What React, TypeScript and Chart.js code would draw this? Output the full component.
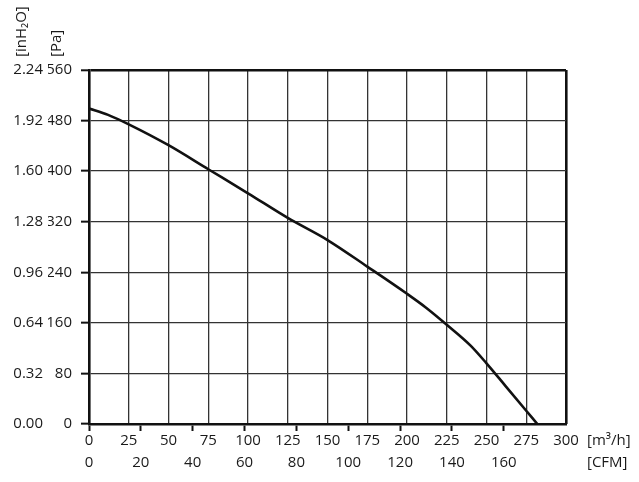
import React, { useEffect, useRef } from 'react';
import { Chart, registerables } from 'chart.js';

Chart.register(...registerables);

// Flow (m³/h) and static pressure (Pa)
const FLOW_M3H = [0, 12, 25, 50, 75, 100, 125, 150, 175, 200, 212, 225, 240, 250, 262, 275, 282];
const PRESSURE_PA = [499, 489, 474, 441, 403, 365, 326, 291, 249, 206, 184, 157, 124, 96, 60, 21, 0];

const M3H_TICKS = [0, 25, 50, 75, 100, 125, 150, 175, 200, 225, 250, 275, 300];
const CFM_TICKS = [0, 20, 40, 60, 80, 100, 120, 140, 160];
const CFM_MAX = 184;
const PA_TICKS = [0, 80, 160, 240, 320, 400, 480, 560];
const INH2O_TICKS = ['0.00', '0.32', '0.64', '0.96', '1.28', '1.60', '1.92', '2.24'];

const FONT_FAMILY = "'Open Sans', 'Noto Sans', sans-serif";
const FONT_SIZE = 15;
const TEXT_COLOR = '#1a1a1a';
const GRID_COLOR = '#333333';
const FRAME_COLOR = '#111111';

const unitsPlugin = {
  id: 'units',
  afterDraw(chart: any) {
    const { ctx, chartArea } = chart;
    ctx.save();
    ctx.fillStyle = TEXT_COLOR;
    ctx.font = `${FONT_SIZE}px ${FONT_FAMILY}`;
    ctx.textBaseline = 'middle';
    ctx.textAlign = 'left';
    const xs = chart.scales.x;
    const xc = chart.scales.xc;
    ctx.fillText('[m³/h]', chartArea.right + 21, xs.top + 1 + FONT_SIZE * 0.6);
    ctx.fillText('[CFM]', chartArea.right + 21, xc.top + 4 + FONT_SIZE * 0.6);
    ctx.save();
    ctx.translate(22, chartArea.top - 13);
    ctx.rotate(-Math.PI / 2);
    ctx.fillText('[inH₂O]', 0, 0);
    ctx.restore();
    ctx.save();
    ctx.translate(57, chartArea.top - 13);
    ctx.rotate(-Math.PI / 2);
    ctx.fillText('[Pa]', 0, 0);
    ctx.restore();
    ctx.restore();
  },
};

export default function App() {
  const ref = useRef<HTMLCanvasElement | null>(null);

  useEffect(() => {
    document.body.style.margin = '0';
    if (!ref.current) return;
    const font = { family: FONT_FAMILY, size: FONT_SIZE };
    const chart = new Chart(ref.current, {
      type: 'line',
      data: {
        datasets: [
          {
            data: FLOW_M3H.map((f, i) => ({ x: f, y: PRESSURE_PA[i] })),
            borderColor: '#111111',
            borderWidth: 2.6,
            pointRadius: 0,
            cubicInterpolationMode: 'monotone',
            xAxisID: 'x',
            yAxisID: 'y',
          },
        ],
      },
      plugins: [unitsPlugin],
      options: {
        responsive: false,
        animation: false,
        layout: { padding: { left: 12, top: 70, right: 73, bottom: 0 } },
        plugins: { legend: { display: false }, tooltip: { enabled: false } },
        scales: {
          xt: {
            type: 'linear',
            position: 'bottom',
            min: 0,
            max: CFM_MAX,
            afterBuildTicks: (s: any) => {
              s.ticks = CFM_TICKS.map((v) => ({ value: v }));
            },
            afterFit: (s: any) => {
              s.height = 7;
            },
            grid: {
              display: true,
              drawOnChartArea: false,
              drawTicks: true,
              tickLength: 7,
              tickWidth: 2,
              tickColor: FRAME_COLOR,
            },
            border: { display: true, width: 2.6, color: FRAME_COLOR },
            ticks: { display: false },
          },
          x: {
            type: 'linear',
            position: 'bottom',
            min: 0,
            max: 300,
            afterBuildTicks: (s: any) => {
              s.ticks = M3H_TICKS.map((v) => ({ value: v }));
            },
            afterFit: (s: any) => {
              s.height = 19;
            },
            grid: {
              display: true,
              drawOnChartArea: true,
              drawTicks: false,
              color: (c: any) => (c.tick && c.tick.value === 300 ? FRAME_COLOR : GRID_COLOR),
              lineWidth: (c: any) => (c.tick && c.tick.value === 300 ? 2.6 : 1.3),
            },
            border: { display: false },
            ticks: {
              autoSkip: false,
              maxRotation: 0,
              padding: 1,
              color: TEXT_COLOR,
              font,
              callback: (v: any) => String(v),
            },
          },
          xc: {
            type: 'linear',
            position: 'bottom',
            min: 0,
            max: CFM_MAX,
            afterBuildTicks: (s: any) => {
              s.ticks = CFM_TICKS.map((v) => ({ value: v }));
            },
            afterFit: (s: any) => {
              s.height = 32;
            },
            grid: { display: false, drawTicks: false },
            border: { display: false },
            ticks: {
              autoSkip: false,
              maxRotation: 0,
              padding: 4,
              color: TEXT_COLOR,
              font,
              callback: (v: any) => String(v),
            },
          },
          y: {
            type: 'linear',
            position: 'left',
            min: 0,
            max: 560,
            afterBuildTicks: (s: any) => {
              s.ticks = PA_TICKS.map((v) => ({ value: v }));
            },
            afterFit: (s: any) => {
              s.width = 41;
            },
            grid: {
              display: true,
              drawOnChartArea: true,
              drawTicks: true,
              tickLength: 8,
              tickWidth: 2,
              tickColor: FRAME_COLOR,
              color: (c: any) => (c.tick && c.tick.value === 560 ? FRAME_COLOR : GRID_COLOR),
              lineWidth: (c: any) => (c.tick && c.tick.value === 560 ? 2.6 : 1.3),
            },
            border: { display: true, width: 2.6, color: FRAME_COLOR },
            ticks: {
              autoSkip: false,
              padding: 9,
              color: TEXT_COLOR,
              font,
              callback: (v: any) => String(v),
            },
          },
          yin: {
            type: 'linear',
            position: 'left',
            min: 0,
            max: 2.24,
            afterBuildTicks: (s: any) => {
              s.ticks = INH2O_TICKS.map((t) => ({ value: parseFloat(t), label: t }));
            },
            afterFit: (s: any) => {
              s.width = 36;
            },
            grid: { display: false, drawTicks: false },
            border: { display: false },
            ticks: {
              autoSkip: false,
              padding: 5,
              color: TEXT_COLOR,
              font,
              callback: (v: any) => Number(v).toFixed(2),
            },
          },
        },
      },
    } as any);
    return () => chart.destroy();
  }, []);

  return (
    <div style={{ width: 639, height: 482, overflow: 'hidden' }}>
      <canvas ref={ref} width={639} height={482} style={{ display: 'block' }} />
    </div>
  );
}
